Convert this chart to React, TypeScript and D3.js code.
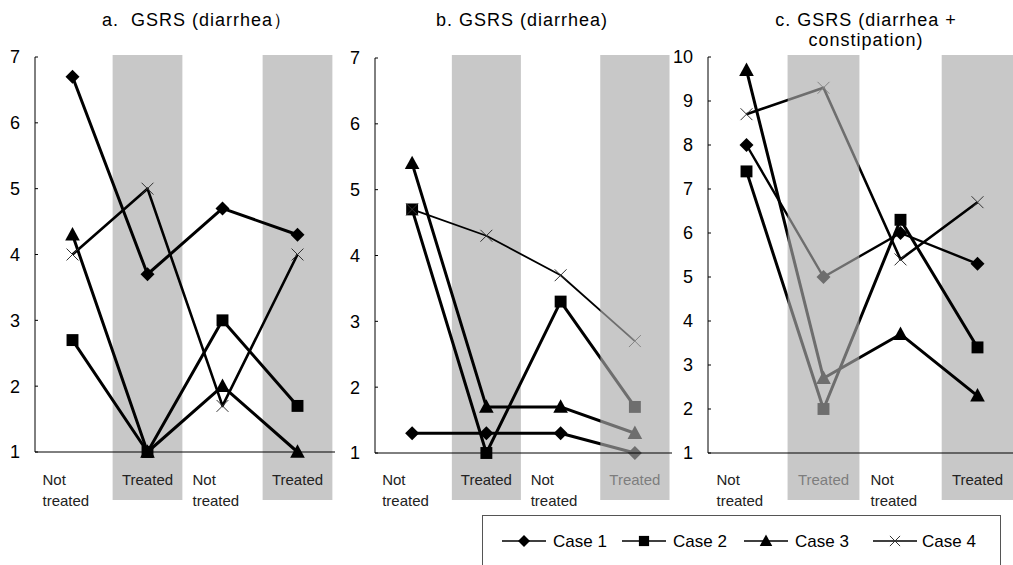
import React, { useRef, useEffect } from 'react';
import * as d3 from 'd3';

// categories along the x axis of every panel
const categories = ['Not treated', 'Treated', 'Not treated', 'Treated'];
const caseNames = ['Case 1', 'Case 2', 'Case 3', 'Case 4'];

// panel a: GSRS (diarrhea)
const titleA = ['a.  GSRS (diarrhea）'];
const aCase1 = [6.7, 3.7, 4.7, 4.3];
const aCase2 = [2.7, 1.0, 3.0, 1.7];
const aCase3 = [4.3, 1.0, 2.0, 1.0];
const aCase4 = [4.0, 5.0, 1.7, 4.0];
const ticksA = [1, 2, 3, 4, 5, 6, 7];

// panel b: GSRS (diarrhea)
const titleB = ['b. GSRS (diarrhea)'];
const bCase1 = [1.3, 1.3, 1.3, 1.0];
const bCase2 = [4.7, 1.0, 3.3, 1.7];
const bCase3 = [5.4, 1.7, 1.7, 1.3];
const bCase4 = [4.7, 4.3, 3.7, 2.7];
const ticksB = [1, 2, 3, 4, 5, 6, 7];

// panel c: GSRS (diarrhea + constipation)
const titleC = ['c. GSRS (diarrhea +', 'constipation)'];
const cCase1 = [8.0, 5.0, 6.0, 5.3];
const cCase2 = [7.4, 2.0, 6.3, 3.4];
const cCase3 = [9.7, 2.7, 3.7, 2.3];
const cCase4 = [8.7, 9.3, 5.4, 6.7];
const ticksC = [1, 2, 3, 4, 5, 6, 7, 8, 9, 10];

const FONT = '"Liberation Sans", Arial, sans-serif';
const BAND = '#c8c8c8';

type Panel = {
  title: string[];
  series: number[][];
  ticks: number[];
  left: number;
  right: number;
  top: number;
  bottom: number;
  titleX: number;
  overlay: number[];
  widths: number[];
};

const panels: Panel[] = [
  { title: titleA, series: [aCase1, aCase2, aCase3, aCase4], ticks: ticksA, left: 35, right: 335, top: 57, bottom: 452, titleX: 197, overlay: [], widths: [3, 3, 3, 2.6] },
  { title: titleB, series: [bCase1, bCase2, bCase3, bCase4], ticks: ticksB, left: 375, right: 672, top: 58, bottom: 453, titleX: 522, overlay: [3], widths: [3, 3, 3, 1.8] },
  { title: titleC, series: [cCase1, cCase2, cCase3, cCase4], ticks: ticksC, left: 708, right: 1016, top: 57, bottom: 453, titleX: 866, overlay: [1], widths: [2.4, 3, 3, 2.6] },
];

// marker drawing, one per case
const drawMarker = (g: d3.Selection<SVGGElement, unknown, null, undefined>, kind: number, s: number) => {
  if (kind === 0) {
    g.append('path').attr('d', `M0,${-s}L${s},0L0,${s}L${-s},0Z`).attr('fill', '#000');
  } else if (kind === 1) {
    const h = s * 0.85;
    g.append('rect').attr('x', -h).attr('y', -h).attr('width', h * 2).attr('height', h * 2).attr('fill', '#000');
  } else if (kind === 2) {
    const t = s * 1.1;
    g.append('path').attr('d', `M0,${-t}L${t * 0.95},${t * 0.75}L${-t * 0.95},${t * 0.75}Z`).attr('fill', '#000');
  } else {
    const h = s * 0.85;
    g.append('path')
      .attr('d', `M${-h},${-h}L${h},${h}M${-h},${h}L${h},${-h}`)
      .attr('stroke', '#333')
      .attr('stroke-width', 1)
      .attr('fill', 'none');
  }
};

const App: React.FC = () => {
  const svgRef = useRef<SVGSVGElement>(null);

  useEffect(() => {
    if (!svgRef.current) return;
    const svg = d3.select(svgRef.current);
    svg.selectAll('*').remove();

    panels.forEach(p => {
      const g = svg.append('g');
      const x = d3.scaleBand<number>()
        .domain(d3.range(categories.length))
        .range([p.left, p.right])
        .paddingInner(0.07)
        .paddingOuter(0.035);
      const cx = (i: number) => (x(i) as number) + x.bandwidth() / 2;
      const y = d3.scaleLinear()
        .domain([1, d3.max(p.ticks) as number])
        .range([p.bottom, p.top]);

      const bandTop = 55;
      const bandBottom = 500;

      // shaded "Treated" bands
      g.append('g')
        .selectAll('rect')
        .data([1, 3])
        .join('rect')
        .attr('x', d => x(d) as number)
        .attr('y', bandTop)
        .attr('width', x.bandwidth())
        .attr('height', bandBottom - bandTop)
        .attr('fill', BAND);

      // titles
      g.append('text')
        .attr('text-anchor', 'middle')
        .attr('font-family', FONT)
        .attr('font-size', 18)
        .attr('letter-spacing', 1)
        .attr('xml:space', 'preserve')
        .selectAll('tspan')
        .data(p.title)
        .join('tspan')
        .attr('x', p.titleX)
        .attr('y', (_, i) => 26 + i * 20)
        .text(d => d);

      // category labels
      categories.forEach((c, i) => {
        if (c === 'Treated') {
          g.append('text')
            .attr('x', cx(i))
            .attr('y', 485)
            .attr('text-anchor', 'middle')
            .attr('font-family', FONT)
            .attr('font-size', 15)
            .attr('fill', '#222')
            .text(c);
        } else {
          const words = c.split(' ');
          g.append('text')
            .attr('font-family', FONT)
            .attr('font-size', 15)
            .attr('fill', '#222')
            .selectAll('tspan')
            .data(words)
            .join('tspan')
            .attr('x', cx(i) - 30)
            .attr('y', (_, k) => 485 + k * 21)
            .text(d => d);
        }
      });

      // lines
      const line = d3.line<number>()
        .x((_, i) => cx(i))
        .y(d => y(d));

      p.series.forEach((s, k) => {
        g.append('path')
          .attr('d', line(s))
          .attr('fill', 'none')
          .attr('stroke', '#000')
          .attr('stroke-width', p.widths[k])
          .attr('stroke-linejoin', 'round');
      });

      // markers
      p.series.forEach((s, k) => {
        s.forEach((v, i) => {
          const m = g.append('g').attr('transform', `translate(${cx(i)},${y(v)})`);
          drawMarker(m, k, 7);
        });
      });

      // semi-transparent bands that sit on top of the marks
      g.append('g')
        .selectAll('rect')
        .data(p.overlay)
        .join('rect')
        .attr('x', d => x(d) as number)
        .attr('y', bandTop)
        .attr('width', x.bandwidth())
        .attr('height', bandBottom - bandTop)
        .attr('fill', BAND)
        .attr('fill-opacity', 0.55);

      // axes
      g.append('line')
        .attr('x1', p.left).attr('x2', p.left)
        .attr('y1', p.top).attr('y2', p.bottom)
        .attr('stroke', '#000');
      g.append('line')
        .attr('x1', p.left).attr('x2', p.right)
        .attr('y1', p.bottom).attr('y2', p.bottom)
        .attr('stroke', '#000');

      const tick = g.append('g')
        .selectAll('g')
        .data(p.ticks)
        .join('g')
        .attr('transform', d => `translate(${p.left},${y(d)})`);
      tick.append('line').attr('x1', 0).attr('x2', 3).attr('stroke', '#000');
      tick.append('text')
        .attr('x', -15)
        .attr('dy', '0.36em')
        .attr('text-anchor', 'end')
        .attr('font-family', FONT)
        .attr('font-size', 18)
        .text(d => d);
    });

    // legend
    const lg = svg.append('g');
    lg.append('rect')
      .attr('x', 482.5).attr('y', 515.5)
      .attr('width', 518).attr('height', 70)
      .attr('fill', '#fff')
      .attr('stroke', '#555');
    const legendX = [502, 622, 744, 873];
    caseNames.forEach((name, k) => {
      const item = lg.append('g').attr('transform', `translate(${legendX[k]},541)`);
      item.append('line').attr('x1', 0).attr('x2', 44).attr('stroke', '#000').attr('stroke-width', 1.5);
      const m = item.append('g').attr('transform', 'translate(22,0)');
      drawMarker(m, k, 6);
      item.append('text')
        .attr('x', k === 3 ? 49 : 51)
        .attr('y', 6)
        .attr('font-family', FONT)
        .attr('font-size', 17)
        .text(name);
    });
  }, []);

  return (
    <svg
      ref={svgRef}
      width={1013}
      height={565}
      style={{ position: 'absolute', left: 0, top: 0, background: '#fff' }}
    />
  );
};

export default App;
